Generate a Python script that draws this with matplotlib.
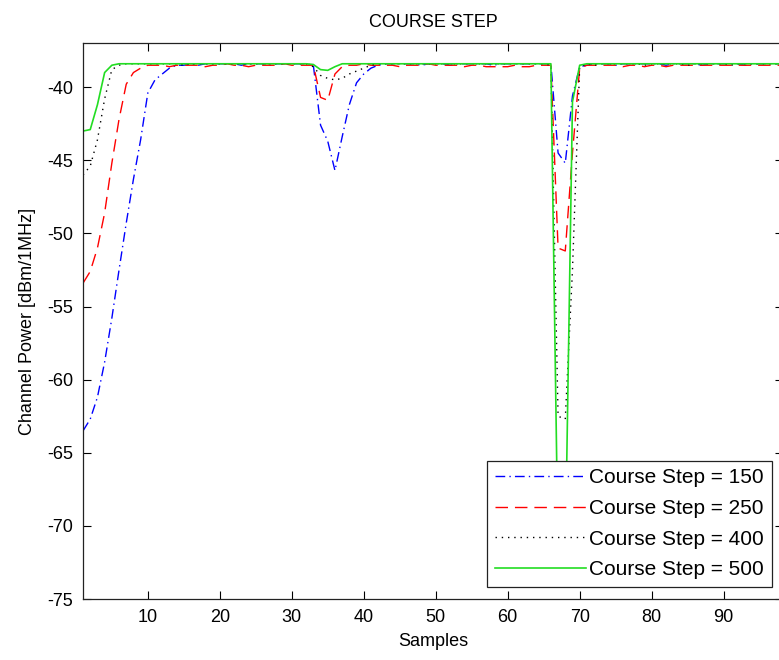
import matplotlib
matplotlib.use("Agg")
import matplotlib.pyplot as plt
import numpy as np

plt.rcParams["font.family"] = ["Liberation Sans", "DejaVu Sans"]
plt.rcParams["axes.unicode_minus"] = False

# Sample index (x axis)
samples = list(range(1, 99))

# Channel power per sample, one series per course step setting [dBm/1MHz]
step_150 = [
    -63.5, -62.7, -61.2, -58.8, -55.8, -52.5, -49.3, -46.3, -43.6, -40.4,
    -39.5, -39.1, -38.7, -38.5, -38.5, -38.4, -38.5, -38.4, -38.4, -38.4,
    -38.4, -38.4, -38.5, -38.4, -38.4, -38.4, -38.5, -38.4, -38.4, -38.4,
    -38.4, -38.4, -38.5, -42.6, -43.7, -45.7, -43.4, -41.2, -39.7, -39.1,
    -38.7, -38.5, -38.4, -38.4, -38.4, -38.4, -38.4, -38.5, -38.4, -38.4,
    -38.4, -38.5, -38.4, -38.4, -38.4, -38.4, -38.4, -38.5, -38.4, -38.4,
    -38.4, -38.4, -38.4, -38.4, -38.4, -38.4, -44.5, -45.2, -40.6, -38.6,
    -38.5, -38.4, -38.4, -38.4, -38.5, -38.4, -38.4, -38.4, -38.4, -38.4,
    -38.4, -38.5, -38.4, -38.4, -38.4, -38.4, -38.5, -38.4, -38.4, -38.4,
    -38.4, -38.4, -38.5, -38.4, -38.4, -38.4, -38.4, -38.4,
]
step_250 = [
    -53.4, -52.6, -51.0, -48.6, -45.2, -42.2, -39.8, -39.0, -38.7, -38.5,
    -38.5, -38.5, -38.6, -38.5, -38.5, -38.5, -38.5, -38.6, -38.5, -38.5,
    -38.4, -38.5, -38.5, -38.6, -38.5, -38.5, -38.5, -38.5, -38.4, -38.5,
    -38.5, -38.5, -38.5, -40.7, -40.9, -39.1, -38.6, -38.5, -38.5, -38.4,
    -38.5, -38.5, -38.5, -38.5, -38.6, -38.5, -38.5, -38.5, -38.4, -38.5,
    -38.5, -38.5, -38.5, -38.6, -38.5, -38.5, -38.6, -38.6, -38.6, -38.6,
    -38.5, -38.6, -38.6, -38.5, -38.5, -38.5, -51.0, -51.2, -44.5, -38.7,
    -38.5, -38.5, -38.5, -38.5, -38.5, -38.6, -38.5, -38.5, -38.6, -38.5,
    -38.5, -38.6, -38.5, -38.5, -38.5, -38.5, -38.5, -38.5, -38.5, -38.5,
    -38.5, -38.5, -38.5, -38.5, -38.5, -38.5, -38.5, -38.5,
]
step_400 = [
    -46.0, -45.4, -43.6, -40.8, -38.8, -38.5, -38.4, -38.4, -38.4, -38.4,
    -38.4, -38.4, -38.4, -38.4, -38.5, -38.4, -38.4, -38.4, -38.4, -38.4,
    -38.4, -38.4, -38.4, -38.4, -38.4, -38.4, -38.4, -38.4, -38.4, -38.4,
    -38.4, -38.4, -38.6, -39.2, -39.4, -39.5, -39.4, -39.1, -38.9, -38.7,
    -38.5, -38.4, -38.4, -38.4, -38.4, -38.4, -38.4, -38.4, -38.4, -38.4,
    -38.4, -38.4, -38.4, -38.4, -38.4, -38.4, -38.4, -38.4, -38.4, -38.4,
    -38.4, -38.4, -38.4, -38.4, -38.4, -38.5, -62.5, -62.7, -52.5, -38.6,
    -38.4, -38.5, -38.4, -38.4, -38.4, -38.4, -38.4, -38.4, -38.5, -38.4,
    -38.4, -38.4, -38.4, -38.4, -38.5, -38.4, -38.4, -38.4, -38.4, -38.4,
    -38.5, -38.4, -38.4, -38.4, -38.4, -38.4, -38.4, -38.4,
]
step_500 = [
    -43.0, -42.9, -41.2, -39.0, -38.5, -38.4, -38.4, -38.4, -38.4, -38.4,
    -38.4, -38.4, -38.4, -38.4, -38.4, -38.4, -38.4, -38.4, -38.4, -38.4,
    -38.4, -38.4, -38.4, -38.4, -38.4, -38.4, -38.4, -38.4, -38.4, -38.4,
    -38.4, -38.4, -38.45, -38.8, -38.85, -38.6, -38.4, -38.4, -38.4, -38.4,
    -38.4, -38.4, -38.4, -38.4, -38.4, -38.4, -38.4, -38.4, -38.4, -38.4,
    -38.4, -38.4, -38.4, -38.4, -38.4, -38.4, -38.4, -38.4, -38.4, -38.4,
    -38.4, -38.4, -38.4, -38.4, -38.4, -38.4, -72.0, -72.0, -41.0, -38.5,
    -38.4, -38.4, -38.4, -38.4, -38.4, -38.4, -38.4, -38.4, -38.4, -38.4,
    -38.4, -38.4, -38.4, -38.4, -38.4, -38.4, -38.4, -38.4, -38.4, -38.4,
    -38.4, -38.4, -38.4, -38.4, -38.4, -38.4, -38.4, -38.4,
]
series_labels = ["Course Step = 150", "Course Step = 250",
                 "Course Step = 400", "Course Step = 500"]

x_ticks = [10, 20, 30, 40, 50, 60, 70, 80, 90]
y_ticks = [-75, -70, -65, -60, -55, -50, -45, -40]

FS = 13

fig = plt.figure(figsize=(7.79, 6.60), dpi=100)
ax = fig.add_axes([0.1066, 0.0924, 0.8990, 0.8420])

ax.plot(samples, step_150, color="#0000ff", lw=1.0, dashes=(7, 3, 1, 3),
        label=series_labels[0])
ax.plot(samples, step_250, color="#ff0000", lw=1.0, dashes=(9, 5),
        label=series_labels[1])
ax.plot(samples, step_400, color="#000000", lw=1.0, dashes=(1, 3.5),
        label=series_labels[2])
ax.plot(samples, step_500, color="#22dd22", lw=1.2, ls="-",
        label=series_labels[3])

ax.set_xlim(1, 98.3)
ax.set_ylim(-75, -37)
ax.set_xticks(x_ticks)
ax.set_yticks(y_ticks)
ax.tick_params(direction="in", length=5.5, width=0.8, labelsize=FS,
               top=True, right=True, pad=7)
for s in ax.spines.values():
    s.set_linewidth(0.9)
    s.set_color("#222222")

ax.set_title("COURSE STEP", fontsize=FS, pad=12)
ax.set_xlabel("Samples", fontsize=FS, labelpad=5)
ax.set_ylabel("Channel Power [dBm/1MHz]", fontsize=FS, labelpad=8)

leg = ax.legend(loc="lower right", bbox_to_anchor=(0.984, 0.021),
                borderaxespad=0, fontsize=15, fancybox=False,
                framealpha=1, edgecolor="#222222", handlelength=4.4,
                handletextpad=0.15, labelspacing=0.56, borderpad=0.38)
leg.get_frame().set_linewidth(0.9)

fig.savefig("out.png", dpi=100)
